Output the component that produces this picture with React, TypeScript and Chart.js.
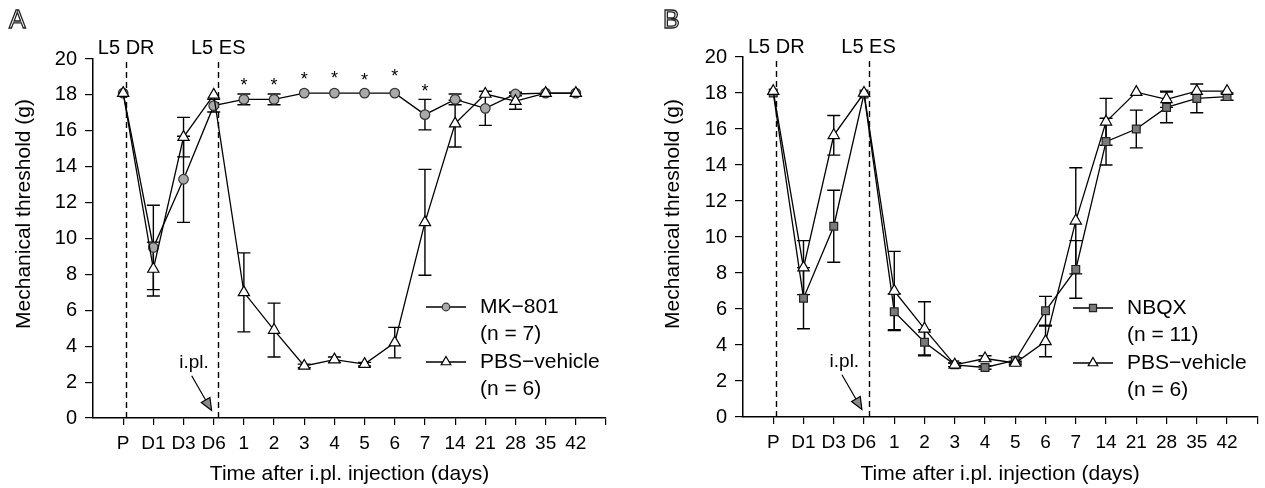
import React, { useEffect, useRef } from 'react';
import { Chart, registerables } from 'chart.js';

Chart.register(...registerables);

// ---------- data ----------
const categories = ['P', 'D1', 'D3', 'D6', '1', '2', '3', '4', '5', '6', '7', '14', '21', '28', '35', '42'];

const pbsMean = [18.1, 8.3, 15.65, 18.0, 7.0, 4.9, 2.9, 3.25, 3.0, 4.2, 10.9, 16.4, 18.05, 17.65, 18.1, 18.1];
const pbsSem = [0, 1.5, 1.1, 0, 2.2, 1.5, 0.1, 0.15, 0.1, 0.85, 2.95, 1.3, 0, 0.45, 0, 0];

const mk801Mean = [18.1, 9.5, 13.3, 17.4, 17.75, 17.75, 18.1, 18.1, 18.1, 18.1, 16.9, 17.75, 17.25, 18.05, 18.1, 18.1];
const mk801Sem = [0, 2.35, 2.4, 0.35, 0.3, 0.3, 0, 0, 0, 0, 0.85, 0.3, 0.95, 0.1, 0, 0];

const nbqxMean = [18.0, 6.6, 10.6, 17.95, 5.85, 4.15, 2.9, 2.75, 3.15, 5.9, 8.2, 15.3, 16.0, 17.2, 17.7, 17.8];
const nbqxSem = [0, 1.7, 2.0, 0, 1.0, 0.7, 0.1, 0.1, 0.15, 0.8, 1.6, 1.3, 1.05, 0.85, 0.8, 0.2];

// significance asterisks (MK-801 vs vehicle)
const mk801SigIdx = [4, 5, 6, 7, 8, 9, 10];
const mk801SigY = [18.7, 18.7, 19.05, 19.1, 19.0, 19.2, 18.4];

// event markers (vertical dashed lines), in category-index units
const eventLabels = ['L5 DR', 'L5 ES'];
const eventX = [0.1, 3.15];

// i.pl. arrow annotation (index units / threshold units)
const iplText = 'i.pl.';
const iplTextPos = [2.35, 3.05];
const iplArrowFrom = [2.27, 2.35];
const iplArrowTo = [2.93, 0.42];

const FONT = '"Liberation Sans", Arial, Helvetica, sans-serif';

type Series = {
  label: string[];
  mean: number[];
  sem: number[];
  style: 'circle' | 'triangle' | 'rect';
  radius: number;
  fill: string;
  stroke: string;
  order: number;
};

type PanelCfg = {
  left: number;
  width: number;
  letter: string;
  letterX: number;
  padding: { left: number; right: number; top: number; bottom: number };
  yWidth: number;
  xHeight: number;
  yTitleX: number;
  yTitleY: number;
  xTitleY: number;
  labelY: number;
  dashTop: number;
  legendX: number;
  legendY: number;
  legendTextX: number;
  series: Series[];
  stars: boolean;
};

const pbsSeries: Series = {
  label: ['PBS\u2212vehicle', '(n = 6)'],
  mean: pbsMean,
  sem: pbsSem,
  style: 'triangle',
  radius: 6.5,
  fill: '#ffffff',
  stroke: '#000000',
  order: 0,
};

const panelA: PanelCfg = {
  left: 0,
  width: 632,
  letter: 'A',
  letterX: 9,
  padding: { left: 0, right: 26, top: 59, bottom: 0 },
  yWidth: 93,
  xHeight: 70,
  yTitleX: 24,
  yTitleY: 214,
  xTitleY: 474,
  labelY: 48,
  dashTop: 62,
  legendX: 426,
  legendY: 307,
  legendTextX: 480,
  series: [
    {
      label: ['MK\u2212801', '(n = 7)'],
      mean: mk801Mean,
      sem: mk801Sem,
      style: 'circle',
      radius: 4.8,
      fill: '#a9a9a9',
      stroke: '#333333',
      order: 1,
    },
    pbsSeries,
  ],
  stars: true,
};

const panelB: PanelCfg = {
  left: 632,
  width: 633,
  letter: 'B',
  letterX: 31,
  padding: { left: 0, right: 7, top: 57, bottom: 0 },
  yWidth: 111,
  xHeight: 71,
  yTitleX: 41,
  yTitleY: 214,
  xTitleY: 474,
  labelY: 47,
  dashTop: 61,
  legendX: 441,
  legendY: 308,
  legendTextX: 495,
  series: [
    {
      label: ['NBQX', '(n = 11)'],
      mean: nbqxMean,
      sem: nbqxSem,
      style: 'rect',
      radius: 5.5,
      fill: '#7a7a7a',
      stroke: '#222222',
      order: 1,
    },
    pbsSeries,
  ],
  stars: false,
};

function drawMarker(ctx: CanvasRenderingContext2D, s: Series, x: number, y: number, r: number) {
  ctx.beginPath();
  if (s.style === 'circle') {
    ctx.arc(x, y, r, 0, Math.PI * 2);
  } else if (s.style === 'triangle') {
    for (let k = 0; k < 3; k++) {
      const a = (k * 2 * Math.PI) / 3;
      const px = x + Math.sin(a) * r;
      const py = y - Math.cos(a) * r;
      if (k === 0) ctx.moveTo(px, py);
      else ctx.lineTo(px, py);
    }
    ctx.closePath();
  } else {
    const h = r * Math.SQRT1_2;
    ctx.rect(x - h, y - h, 2 * h, 2 * h);
  }
  ctx.fillStyle = s.fill;
  ctx.fill();
  ctx.strokeStyle = s.stroke;
  ctx.lineWidth = 1.2;
  ctx.stroke();
}

function makeOverlay(p: PanelCfg) {
  return {
    id: 'overlay' + p.letter,
    beforeDatasetsDraw(chart: any) {
      const ctx: CanvasRenderingContext2D = chart.ctx;
      const xs = chart.scales.x;
      const ys = chart.scales.y;
      const y0 = ys.getPixelForValue(0);
      ctx.save();
      ctx.strokeStyle = '#000';
      ctx.lineWidth = 1.4;
      ctx.setLineDash([6, 4]);
      eventX.forEach((ev) => {
        const px = Math.round(xs.getPixelForValue(ev)) + 0.5;
        ctx.beginPath();
        ctx.moveTo(px, p.dashTop);
        ctx.lineTo(px, y0);
        ctx.stroke();
      });
      ctx.setLineDash([]);
      ctx.lineWidth = 1.4;
      p.series.forEach((s) => {
        s.mean.forEach((m, i) => {
          const e = s.sem[i];
          if (!e) return;
          const px = xs.getPixelForValue(i);
          const t = ys.getPixelForValue(m + e);
          const b = ys.getPixelForValue(m - e);
          ctx.beginPath();
          ctx.moveTo(px, t);
          ctx.lineTo(px, b);
          ctx.moveTo(px - 6.5, t);
          ctx.lineTo(px + 6.5, t);
          ctx.moveTo(px - 6.5, b);
          ctx.lineTo(px + 6.5, b);
          ctx.stroke();
        });
      });
      ctx.restore();
    },
    afterDraw(chart: any) {
      const ctx: CanvasRenderingContext2D = chart.ctx;
      const xs = chart.scales.x;
      const ys = chart.scales.y;
      const area = chart.chartArea;
      ctx.save();
      ctx.fillStyle = '#000';
      // panel letter
      ctx.font = `25px ${FONT}`;
      ctx.textAlign = 'left';
      ctx.textBaseline = 'middle';
      ctx.strokeStyle = '#222';
      ctx.lineWidth = 1.3;
      ctx.strokeText(p.letter, p.letterX, 21);
      // event labels
      ctx.font = `20px ${FONT}`;
      ctx.textAlign = 'center';
      eventLabels.forEach((l, i) => {
        ctx.fillText(l, xs.getPixelForValue(eventX[i]), p.labelY);
      });
      // axis titles
      ctx.font = `21px ${FONT}`;
      ctx.fillText('Time after i.pl. injection (days)', (area.left + area.right) / 2, p.xTitleY);
      ctx.save();
      ctx.translate(p.yTitleX, p.yTitleY);
      ctx.rotate(-Math.PI / 2);
      ctx.fillText('Mechanical threshold (g)', 0, 0);
      ctx.restore();
      // i.pl. annotation
      ctx.font = `19px ${FONT}`;
      ctx.fillText(iplText, xs.getPixelForValue(iplTextPos[0]), ys.getPixelForValue(iplTextPos[1]));
      const ax0 = xs.getPixelForValue(iplArrowFrom[0]);
      const ay0 = ys.getPixelForValue(iplArrowFrom[1]);
      const ax1 = xs.getPixelForValue(iplArrowTo[0]);
      const ay1 = ys.getPixelForValue(iplArrowTo[1]);
      const ang = Math.atan2(ay1 - ay0, ax1 - ax0);
      const hl = 12;
      const hw = 5;
      const bx = ax1 - Math.cos(ang) * hl;
      const by = ay1 - Math.sin(ang) * hl;
      ctx.strokeStyle = '#000';
      ctx.lineWidth = 1.2;
      ctx.beginPath();
      ctx.moveTo(ax0, ay0);
      ctx.lineTo(bx, by);
      ctx.stroke();
      ctx.beginPath();
      ctx.moveTo(ax1, ay1);
      ctx.lineTo(bx + Math.sin(ang) * hw, by - Math.cos(ang) * hw);
      ctx.lineTo(bx - Math.sin(ang) * hw, by + Math.cos(ang) * hw);
      ctx.closePath();
      ctx.fillStyle = '#8a8a8a';
      ctx.fill();
      ctx.stroke();
      ctx.fillStyle = '#000';
      // asterisks
      if (p.stars) {
        ctx.font = `18px ${FONT}`;
        mk801SigIdx.forEach((idx, k) => {
          ctx.fillText('*', xs.getPixelForValue(idx), ys.getPixelForValue(mk801SigY[k]) + 4);
        });
      }
      // legend
      ctx.font = `21px ${FONT}`;
      ctx.textAlign = 'left';
      p.series.forEach((s, k) => {
        const y = p.legendY + k * 55;
        ctx.strokeStyle = '#000';
        ctx.lineWidth = 1.3;
        ctx.beginPath();
        ctx.moveTo(p.legendX, y);
        ctx.lineTo(p.legendX + 40, y);
        ctx.stroke();
        drawMarker(ctx, s, p.legendX + 20, y, s.style === 'triangle' ? 5.5 : s.style === 'rect' ? 5 : 3.8);
        ctx.fillStyle = '#000';
        ctx.fillText(s.label[0], p.legendTextX, y);
        ctx.fillText(s.label[1], p.legendTextX, y + 27);
      });
      ctx.restore();
    },
  };
}

function buildConfig(p: PanelCfg): any {
  const tickVals = categories.map((_, i) => i).concat([categories.length]);
  return {
    type: 'line',
    data: {
      datasets: p.series.map((s) => ({
        label: s.label.join(' '),
        data: s.mean.map((v, i) => ({ x: i, y: v })),
        borderColor: '#000',
        borderWidth: 1.3,
        pointStyle: s.style,
        pointRadius: s.radius,
        pointBackgroundColor: s.fill,
        pointBorderColor: s.stroke,
        pointBorderWidth: 1.2,
        fill: false,
        tension: 0,
        order: s.order,
        clip: false,
      })),
    },
    options: {
      responsive: false,
      animation: false,
      devicePixelRatio: 1,
      layout: { padding: p.padding },
      plugins: {
        legend: { display: false },
        tooltip: { enabled: false },
        title: { display: false },
      },
      scales: {
        x: {
          type: 'linear',
          min: -1,
          max: categories.length,
          afterBuildTicks: (s: any) => {
            s.ticks = tickVals.map((v) => ({ value: v }));
          },
          afterFit: (s: any) => {
            s.height = p.xHeight;
          },
          ticks: {
            autoSkip: false,
            maxRotation: 0,
            padding: 7,
            color: '#000',
            font: { family: FONT, size: 19 },
            callback: (v: number) => (categories[v] !== undefined ? categories[v] : ''),
          },
          grid: {
            display: true,
            drawOnChartArea: false,
            drawTicks: true,
            tickLength: 7,
            color: '#000',
            lineWidth: 1.2,
          },
          border: { display: true, color: '#000', width: 1.5 },
        },
        y: {
          type: 'linear',
          min: 0,
          max: 20,
          afterFit: (s: any) => {
            s.width = p.yWidth;
          },
          ticks: {
            stepSize: 2,
            padding: 8,
            color: '#000',
            font: { family: FONT, size: 20 },
          },
          grid: {
            display: true,
            drawOnChartArea: false,
            drawTicks: true,
            tickLength: 8,
            color: '#000',
            lineWidth: 1.2,
          },
          border: { display: true, color: '#000', width: 1.5 },
        },
      },
    },
    plugins: [makeOverlay(p)],
  };
}

function Panel({ cfg }: { cfg: PanelCfg }) {
  const ref = useRef<HTMLCanvasElement | null>(null);
  useEffect(() => {
    if (!ref.current) return;
    const chart = new Chart(ref.current, buildConfig(cfg));
    return () => chart.destroy();
  }, [cfg]);
  return (
    <canvas
      ref={ref}
      width={cfg.width}
      height={488}
      style={{ position: 'absolute', left: cfg.left, top: 0, width: cfg.width, height: 488 }}
    />
  );
}

export default function App() {
  return (
    <div style={{ position: 'absolute', left: 0, top: 0, width: 1265, height: 488, background: '#fff' }}>
      <Panel cfg={panelA} />
      <Panel cfg={panelB} />
    </div>
  );
}
